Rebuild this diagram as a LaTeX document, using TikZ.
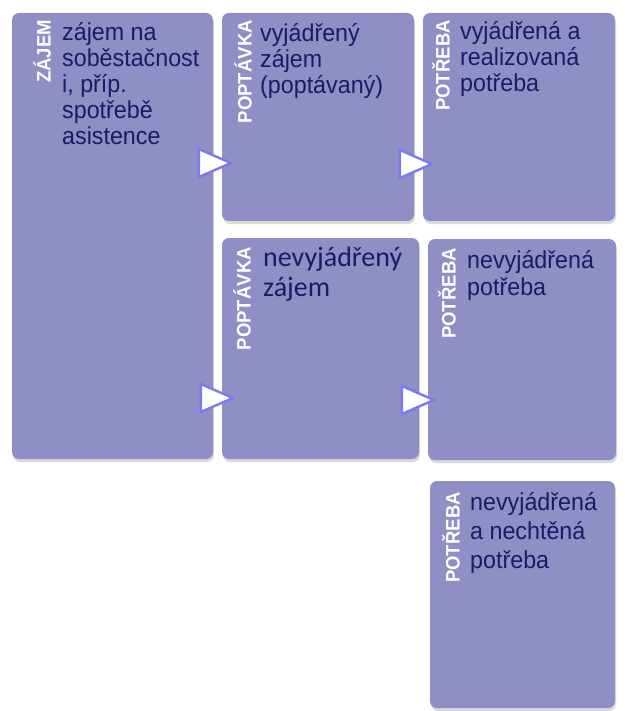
\documentclass[tikz,border=0pt]{standalone}
\usepackage{fontspec}
\setmainfont{Liberation Sans}
\newfontfamily\arialfont{Liberation Sans}[FakeStretch=0.95]
\newfontfamily\calibfont{Carlito}
\usetikzlibrary{shapes.geometric,shadows}
\definecolor{boxfill}{RGB}{143,143,197}
\definecolor{boxtext}{RGB}{26,26,104}
\definecolor{tipline}{RGB}{122,122,240}

\begin{document}
\begin{tikzpicture}[x=1pt,y=-1pt,
  card/.style={fill=boxfill, rounded corners=7pt, inner sep=0pt, outer sep=0pt, anchor=north west,
    drop shadow={shadow xshift=1pt, shadow yshift=-3pt, opacity=0.3}},
  tag/.style={rotate=90, anchor=east, inner sep=0pt, text=white,
    font=\arialfont\bfseries\fontsize{19.5}{20}\selectfont},
  body/.style={anchor=north west, inner sep=0pt, align=left, text=boxtext,
    font=\arialfont\fontsize{24.5}{26}\selectfont},
  flow/.style={isosceles triangle, isosceles triangle stretches, minimum width=28pt, minimum height=32pt,
    inner sep=0pt, fill=white, draw=tipline, line width=2.4pt, line join=round, anchor=apex}]
\useasboundingbox (0,0) rectangle (624,711);

\node[card, minimum width=201pt, minimum height=446pt] (zajem) at (12,13) {};
\node[card, minimum width=192pt, minimum height=208pt] (poptavka1) at (222,13) {};
\node[card, minimum width=192pt, minimum height=208pt] (potreba1) at (423,13) {};
\node[card, minimum width=197pt, minimum height=221pt] (poptavka2) at (222,238) {};
\node[card, minimum width=188pt, minimum height=221pt] (potreba2) at (428,239) {};
\node[card, minimum width=185pt, minimum height=227pt] (potreba3) at (430,481) {};

\node[tag] (zajemtag) at ([xshift=30pt,yshift=-7pt]zajem.north west) {ZÁJEM};
\node[tag] (poptavka1tag) at ([xshift=21pt,yshift=-7pt]poptavka1.north west) {POPTÁVKA};
\node[tag] (potreba1tag) at ([xshift=18pt,yshift=-7pt]potreba1.north west) {POTŘEBA};
\node[tag] (poptavka2tag) at ([xshift=20pt,yshift=-9pt]poptavka2.north west) {POPTÁVKA};
\node[tag] (potreba2tag) at ([xshift=19pt,yshift=-9pt]potreba2.north west) {POTŘEBA};
\node[tag] (potreba3tag) at ([xshift=21pt,yshift=-11pt]potreba3.north west) {POTŘEBA};

\node[body] (zajemtext) at ([xshift=50pt,yshift=-9pt]zajem.north west)
  {zájem na\\soběstačnost\\i, příp.\\spotřebě\\asistence};
\node[body] (poptavka1text) at ([xshift=38pt,yshift=-10pt]poptavka1.north west)
  {vyjádřený\\zájem\\(poptávaný)};
\node[body] (potreba1text) at ([xshift=37pt,yshift=-8pt]potreba1.north west)
  {vyjádřená a\\realizovaná\\potřeba};
\node[body, font=\calibfont\fontsize{28}{30}\selectfont] (poptavka2text) at ([xshift=41pt,yshift=-9pt]poptavka2.north west)
  {nevyjádřený\\zájem};
\node[body, font=\arialfont\fontsize{24.5}{27}\selectfont] (potreba2text) at ([xshift=39pt,yshift=-11pt]potreba2.north west)
  {nevyjádřená\\potřeba};
\node[body, font=\arialfont\fontsize{24.5}{29}\selectfont] (potreba3text) at ([xshift=40pt,yshift=-11pt]potreba3.north west)
  {nevyjádřená\\a nechtěná\\potřeba};

\node[flow] (flow1) at (234,163) {};
\node[flow] (flow2) at (435,164) {};
\node[flow] (flow3) at (236,398) {};
\node[flow] (flow4) at (437,400) {};
\end{tikzpicture}
\end{document}
